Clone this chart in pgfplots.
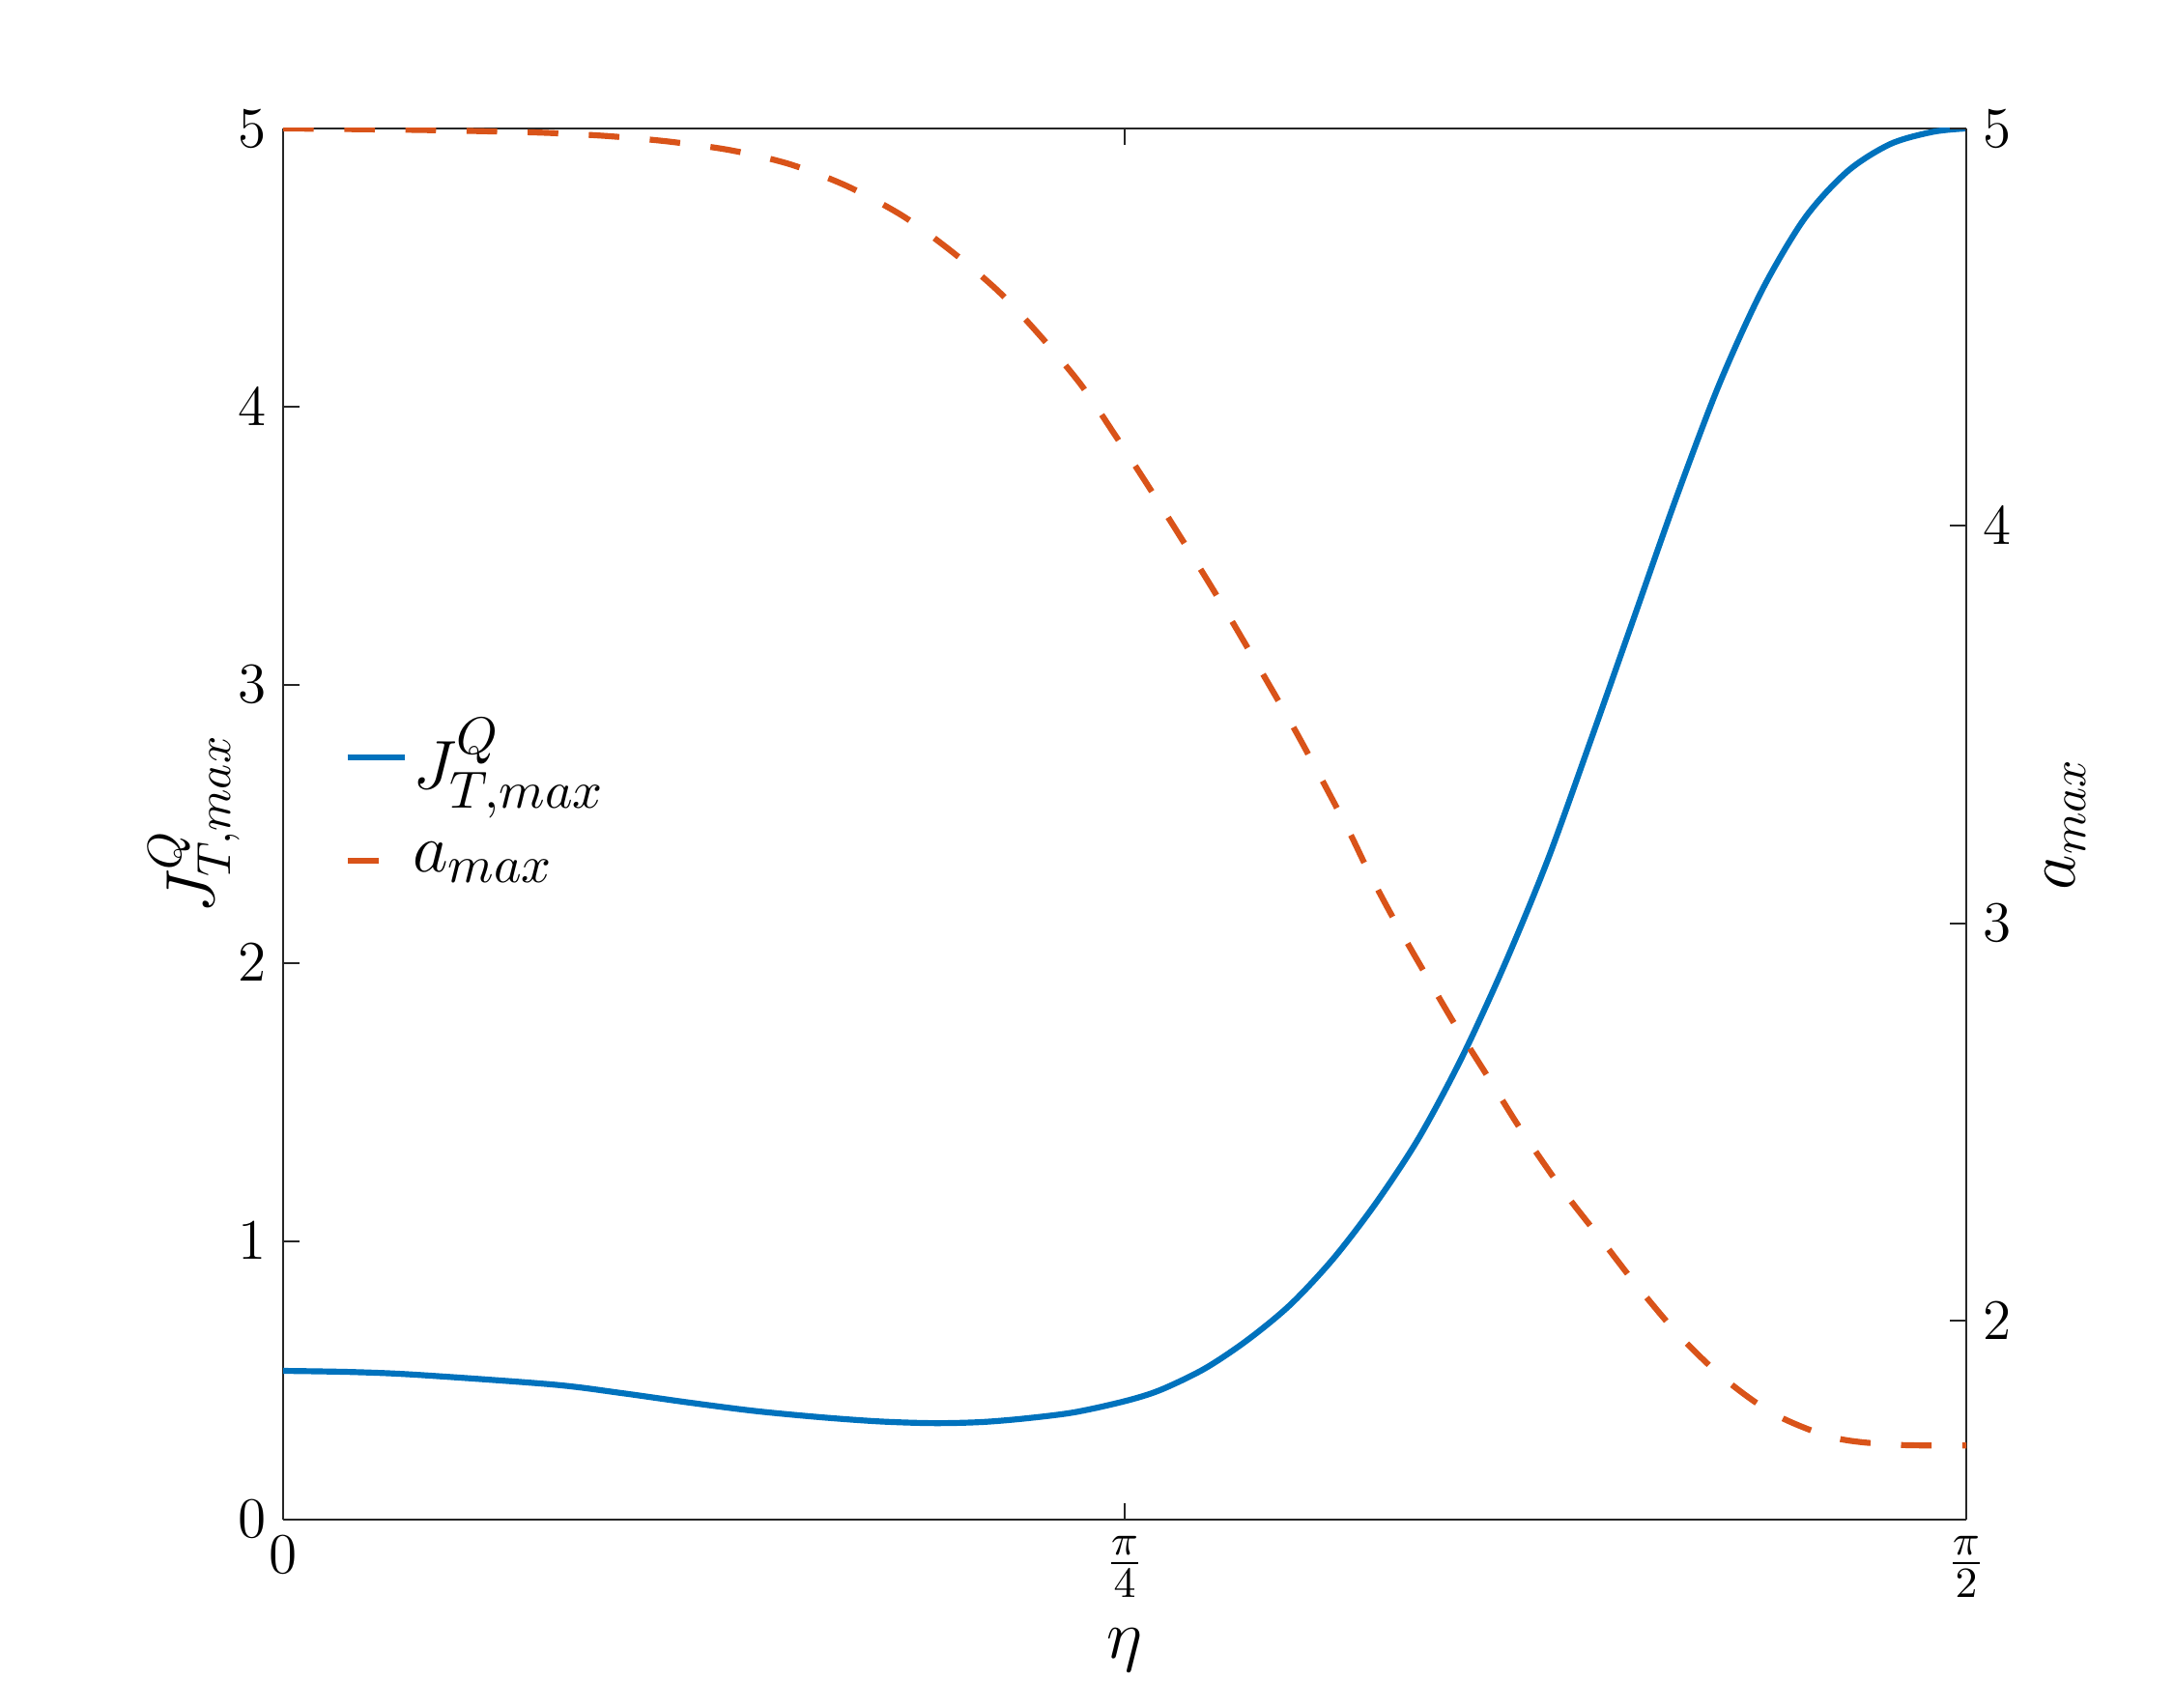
\documentclass[border=0pt]{standalone}
\usepackage{pgfplots}
\pgfplotsset{compat=1.18}
\definecolor{mblue}{rgb}{0,0.447,0.741}
\definecolor{morange}{rgb}{0.85,0.325,0.098}
\pgfplotstableread{
x y
0.0000 0.534
0.0628 0.530
0.1241 0.520
0.2513 0.485
0.3142 0.455
0.3770 0.421
0.4398 0.390
0.5027 0.367
0.5576 0.352
0.6079 0.346
0.6519 0.350
0.6927 0.363
0.7383 0.385
0.7854 0.425
0.8185 0.465
0.8600 0.542
0.9000 0.645
0.9400 0.772
0.9800 0.937
1.0200 1.138
1.0600 1.372
1.1000 1.660
1.1400 1.995
1.1800 2.369
1.2200 2.797
1.2600 3.234
1.3000 3.671
1.3400 4.078
1.3800 4.417
1.4200 4.677
1.4600 4.846
1.5000 4.944
1.5400 4.988
1.5708 5.000
}\blue
\pgfplotstableread{
x y
0.0000 5.000
0.0723 4.998
0.1304 4.996
0.1869 4.993
0.2450 4.989
0.3016 4.981
0.3597 4.967
0.4178 4.945
0.4728 4.910
0.5262 4.855
0.5781 4.780
0.6236 4.691
0.6676 4.590
0.7069 4.477
0.7446 4.355
0.7760 4.230
0.8074 4.100
0.8388 3.966
0.8687 3.836
0.9001 3.693
0.9456 3.480
0.9912 3.250
1.0133 3.128
1.0358 3.014
1.0643 2.880
1.0932 2.747
1.1245 2.613
1.1551 2.481
1.1938 2.330
1.2299 2.205
1.2629 2.090
1.3022 1.965
1.3446 1.855
1.3917 1.765
1.4467 1.706
1.5033 1.688
1.5708 1.686
}\orange
\begin{document}
\begin{tikzpicture}
\pgfplotsset{
  every axis/.append style={
    scale only axis, width=352.4pt, height=291.3pt,
    at={(0,0)}, anchor=south west,
    xmin=0, xmax=1.570796,
    tick align=inside, major tick length=3.4pt,
    tick label style={font=\fontsize{12.5}{14}\selectfont},
    label style={font=\fontsize{14.5}{16}\selectfont},
    axis line style={line width=0.4pt, black!85},
    every tick/.style={black!85, line width=0.4pt},
  }
}
\begin{axis}[
  ymin=0, ymax=5, ytick={0,1,2,3,4,5},
  xtick={0,0.785398,1.570796},
  xticklabels={$0$,$\frac{\pi}{4}$,$\frac{\pi}{2}$},
  axis y line*=left,
  xlabel={$\eta$},
  ylabel={$J^{Q}_{T,max}$},
  ylabel style={at={(axis description cs:0,0.5)}, anchor=center, yshift=18.6pt},
  xlabel style={at={(axis description cs:0.5,0)}, anchor=center, yshift=-27.3pt},
  legend style={draw=none, fill=none, at={(axis description cs:0.036,0.518)}, anchor=west,
    font=\fontsize{15}{17}\selectfont, inner sep=0pt, row sep=5.8pt,
    nodes={inner xsep=1pt}},
  legend cell align=left,
  legend image code/.code={\draw[#1] (0pt,0pt) -- (12pt,0pt);},
]
\addplot[color=mblue, line width=1.25pt, smooth] table[x=x,y=y] {\blue};
\addlegendentry{$J^{Q}_{T,max}$}
\addlegendimage{color=morange, line width=1.25pt, dash pattern=on 6.4pt off 6.4pt}
\addlegendentry{$a_{max}$}
\end{axis}
\begin{axis}[
  ymin=1.5, ymax=5, ytick={2,3,4,5},
  axis y line*=right, axis x line=none,
  ylabel={$a_{max}$},
  ylabel style={at={(axis description cs:1,0.5)}, anchor=center, rotate=0, yshift=-20.8pt},
]
\addplot[color=morange, line width=1.25pt, smooth, dash pattern=on 6.4pt off 6.4pt] table[x=x,y=y] {\orange};
\end{axis}
\pgfresetboundingbox
\path (-59.3pt,-39.4pt) rectangle (395.9pt,318.2pt);
\end{tikzpicture}
\end{document}
